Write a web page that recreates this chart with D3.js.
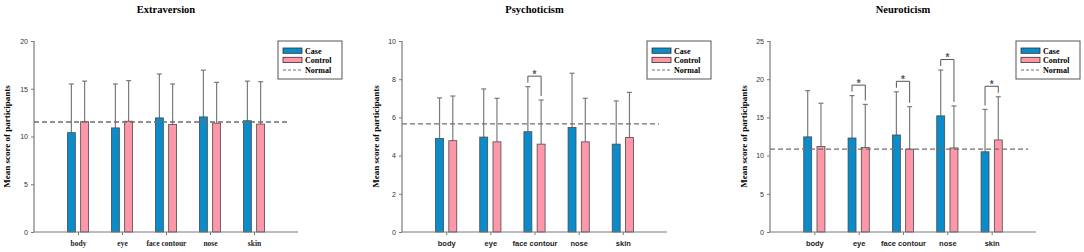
<!DOCTYPE html>
<html>
<head>
<meta charset="utf-8">
<script src="https://cdn.jsdelivr.net/npm/d3@7"></script>
<style>
  body { margin: 0; background: #fff; }
  svg { display: block; }
</style>
</head>
<body>
<svg id="chart"></svg>
<script>
// Mean personality scores (EPQ) of case vs control by body-part concern

const categories = ["body", "eye", "face contour", "nose", "skin"];
const groups = ["Case", "Control"];

const extraCase = [10.4, 10.9, 11.95, 12.05, 11.65];
const extraCaseSD = [5.1, 4.6, 4.6, 4.9, 4.15];
const extraControl = [11.55, 11.6, 11.25, 11.4, 11.3];
const extraControlSD = [4.25, 4.25, 4.25, 4.27, 4.44];
const extraNormal = 11.52;
const extraTicks = [0, 5, 10, 15, 20];
const extraSig = [];

const psychoCase = [4.9, 4.97, 5.25, 5.47, 4.6];
const psychoCaseSD = [2.12, 2.52, 2.36, 2.84, 2.26];
const psychoControl = [4.78, 4.72, 4.6, 4.72, 4.95];
const psychoControlSD = [2.34, 2.28, 2.31, 2.28, 2.36];
const psychoNormal = 5.66;
const psychoTicks = [0, 2, 4, 6, 8, 10];
const psychoSig = ["face contour"];

const neuroCase = [12.45, 12.3, 12.7, 15.2, 10.5];
const neuroCaseSD = [6.05, 5.55, 5.65, 6.0, 5.55];
const neuroControl = [11.2, 11.05, 10.85, 11.0, 12.05];
const neuroControlSD = [5.65, 5.65, 5.55, 5.5, 5.65];
const neuroNormal = 10.85;
const neuroTicks = [0, 5, 10, 15, 20, 25];
const neuroSig = ["eye", "face contour", "nose", "skin"];

const width = 1084;
const height = 252;
const plotTop = 41;
const plotBottom = 232;

const colors = { Case: "#0a8ccb", Control: "#ff97a8" };
const serif = "'Liberation Serif', 'Times New Roman', serif";
const sans = "'Liberation Sans', Arial, sans-serif";

const panels = [
    { title: "Extraversion", left: 34, right: 298, titleX: 7, labelFont: serif,
      caseV: extraCase, caseSD: extraCaseSD, ctrlV: extraControl, ctrlSD: extraControlSD,
      normal: extraNormal, ticks: extraTicks, sig: extraSig },
    { title: "Psychoticism", left: 402, right: 667, titleX: 376, labelFont: sans,
      caseV: psychoCase, caseSD: psychoCaseSD, ctrlV: psychoControl, ctrlSD: psychoControlSD,
      normal: psychoNormal, ticks: psychoTicks, sig: psychoSig },
    { title: "Neuroticism", left: 770, right: 1036, titleX: 744, labelFont: sans,
      caseV: neuroCase, caseSD: neuroCaseSD, ctrlV: neuroControl, ctrlSD: neuroControlSD,
      normal: neuroNormal, ticks: neuroTicks, sig: neuroSig }
];

const svg = d3.select("#chart")
    .attr("width", width)
    .attr("height", height);

function drawPanel(p) {
    const g = svg.append("g");

    const x = d3.scalePoint()
        .domain(categories)
        .range([p.left, p.right])
        .padding(1);

    const xSub = d3.scaleBand()
        .domain(groups)
        .range([-10.6, 10.6])
        .paddingInner(0.4);

    const y = d3.scaleLinear()
        .domain([0, d3.max(p.ticks)])
        .range([plotBottom, plotTop]);

    const rows = categories.map((c, i) => ({
        cat: c,
        bars: [
            { group: "Case", value: p.caseV[i], sd: p.caseSD[i] },
            { group: "Control", value: p.ctrlV[i], sd: p.ctrlSD[i] }
        ]
    }));

    // title
    g.append("text")
        .attr("x", (p.left + p.right) / 2)
        .attr("y", 13)
        .attr("text-anchor", "middle")
        .attr("font-family", serif)
        .attr("font-weight", "bold")
        .attr("font-size", 10.5)
        .text(p.title);

    // y axis title
    g.append("text")
        .attr("transform", `translate(${p.titleX + 3},${(plotTop + plotBottom) / 2}) rotate(-90)`)
        .attr("text-anchor", "middle")
        .attr("font-family", serif)
        .attr("font-weight", "bold")
        .attr("font-size", 9)
        .text("Mean score of participants");

    const cat = g.selectAll(".cat")
        .data(rows)
        .join("g")
        .attr("transform", d => `translate(${x(d.cat)},0)`);

    // error bars (upper only)
    const err = cat.selectAll(".err")
        .data(d => d.bars)
        .join("g")
        .attr("stroke", "#7a7a7a")
        .attr("stroke-width", 1.2);

    err.append("line")
        .attr("x1", d => xSub(d.group) + xSub.bandwidth() / 2)
        .attr("x2", d => xSub(d.group) + xSub.bandwidth() / 2)
        .attr("y1", d => y(d.value))
        .attr("y2", d => y(d.value + d.sd));

    err.append("line")
        .attr("x1", d => xSub(d.group) + xSub.bandwidth() / 2 - 2.5)
        .attr("x2", d => xSub(d.group) + xSub.bandwidth() / 2 + 2.5)
        .attr("y1", d => y(d.value + d.sd))
        .attr("y2", d => y(d.value + d.sd));

    // bars
    cat.selectAll(".bar")
        .data(d => d.bars)
        .join("rect")
        .attr("x", d => xSub(d.group))
        .attr("y", d => y(d.value))
        .attr("width", xSub.bandwidth())
        .attr("height", d => y(0) - y(d.value))
        .attr("fill", d => colors[d.group])
        .attr("stroke", "#4a4a4a")
        .attr("stroke-width", 0.8);

    // significance brackets
    const sigRows = rows.filter(d => p.sig.includes(d.cat));
    const br = g.selectAll(".sig")
        .data(sigRows)
        .join("g")
        .attr("transform", d => `translate(${x(d.cat)},0)`);

    const bracketTop = d => Math.min(y(d.bars[0].value + d.bars[0].sd), y(d.bars[1].value + d.bars[1].sd)) - 10.5;

    br.append("path")
        .attr("fill", "none")
        .attr("stroke", "#555")
        .attr("stroke-width", 1)
        .attr("d", d => {
            const a = d.bars[0], b = d.bars[1];
            const xa = xSub(a.group) + xSub.bandwidth() / 2;
            const xb = xSub(b.group) + xSub.bandwidth() / 2;
            const ya = y(a.value + a.sd);
            const yb = y(b.value + b.sd);
            return `M${xa},${ya - 4}V${bracketTop(d)}H${xb}V${yb - 4}`;
        });

    br.append("text")
        .attr("x", 0)
        .attr("y", d => bracketTop(d) + 1.5)
        .attr("text-anchor", "middle")
        .attr("font-family", sans)
        .attr("font-weight", "bold")
        .attr("font-size", 10)
        .attr("fill", "#555")
        .text("*");

    // normal reference line
    g.append("line")
        .attr("x1", p.left)
        .attr("x2", p.right - 8)
        .attr("y1", y(p.normal))
        .attr("y2", y(p.normal))
        .attr("stroke", "#6e6e6e")
        .attr("stroke-width", 1.3)
        .attr("stroke-dasharray", "5,3");

    // axes
    const yAxis = g.append("g")
        .attr("transform", `translate(${p.left},0)`)
        .call(d3.axisLeft(y).tickValues(p.ticks).tickSize(3).tickPadding(3));

    const xAxis = g.append("g")
        .attr("transform", `translate(0,${plotBottom})`)
        .call(d3.axisBottom(x).tickSize(3).tickPadding(6));

    yAxis.select(".domain").attr("d", `M0,${plotTop}V${plotBottom}`);
    xAxis.select(".domain").attr("d", `M${p.left},0H${p.right}`);

    [yAxis, xAxis].forEach(ax => {
        ax.select(".domain").attr("stroke", "#7a7a7a").attr("stroke-width", 1.2);
        ax.selectAll(".tick line").attr("stroke", "#7a7a7a");
    });

    yAxis.selectAll(".tick text")
        .attr("font-family", sans)
        .attr("font-size", 7)
        .attr("fill", "#333");

    xAxis.selectAll(".tick text")
        .attr("font-family", p.labelFont)
        .attr("font-weight", "bold")
        .attr("font-size", 7.5)
        .attr("fill", "#222");

    // legend
    const lg = g.append("g")
        .attr("transform", `translate(${p.right - 20},${plotTop})`);

    lg.append("rect")
        .attr("width", 64)
        .attr("height", 38)
        .attr("fill", "#fff")
        .attr("stroke", "#555")
        .attr("stroke-width", 1);

    groups.forEach((grp, i) => {
        lg.append("rect")
            .attr("x", 5)
            .attr("y", 7 + i * 9.3)
            .attr("width", 19)
            .attr("height", 5.3)
            .attr("fill", colors[grp])
            .attr("stroke", "#333")
            .attr("stroke-width", 0.8);
        lg.append("text")
            .attr("x", 27)
            .attr("y", 13 + i * 9.3)
            .attr("font-family", serif)
            .attr("font-weight", "bold")
            .attr("font-size", 8)
            .text(grp);
    });

    lg.append("line")
        .attr("x1", 5)
        .attr("x2", 24)
        .attr("y1", 29)
        .attr("y2", 29)
        .attr("stroke", "#6e6e6e")
        .attr("stroke-width", 1.2)
        .attr("stroke-dasharray", "3,2");

    lg.append("text")
        .attr("x", 27)
        .attr("y", 31.6)
        .attr("font-family", serif)
        .attr("font-weight", "bold")
        .attr("font-size", 8)
        .text("Normal");
}

panels.forEach(drawPanel);
</script>
</body>
</html>
